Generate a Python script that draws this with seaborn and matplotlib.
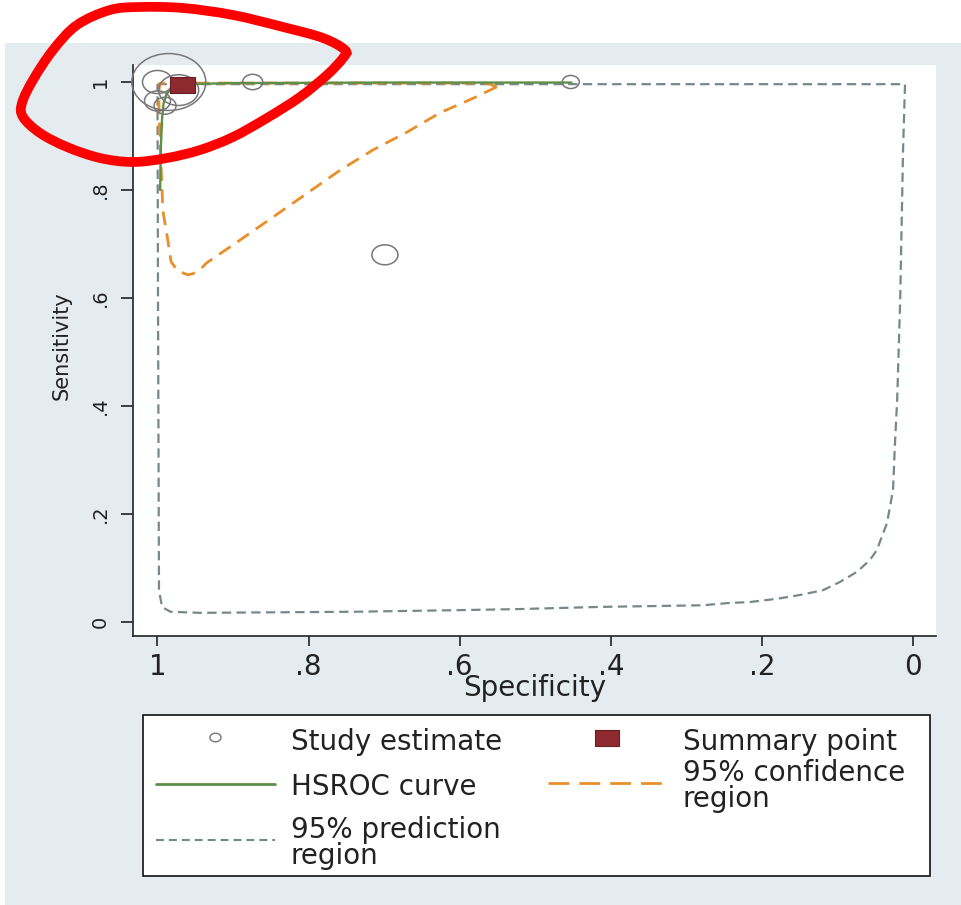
import numpy as np
import matplotlib
matplotlib.use("Agg")
import matplotlib.pyplot as plt
from matplotlib.path import Path
from matplotlib.patches import Rectangle, PathPatch
from matplotlib.lines import Line2D
from matplotlib.transforms import Affine2D
import seaborn as sns

# ---------------- data ----------------
study_spec = [0.985, 1.000, 1.000, 0.990, 0.972, 0.874, 0.453, 0.699]
study_sens = [1.000, 1.000, 0.965, 0.956, 0.985, 1.000, 1.000, 0.680]
study_weight = [74, 30, 26, 22, 40, 20, 17, 26]

summary_spec = [0.967]
summary_sens = [0.994]

hsroc_spec = [0.452, 0.70, 0.90, 0.96, 0.980, 0.988, 0.992, 0.994, 0.9955, 0.9965]
hsroc_sens = [0.999, 0.999, 0.998, 0.996, 0.990, 0.978, 0.960, 0.930, 0.880, 0.800]

conf_spec = [0.551, 0.582, 0.626, 0.670, 0.715, 0.758, 0.802, 0.847, 0.891, 0.935,
             0.944, 0.953, 0.960, 0.973, 0.982, 0.987, 0.993, 0.994, 0.9955, 0.9967,
             0.998, 0.998, 0.9967, 0.564, 0.551]
conf_sens = [0.991, 0.970, 0.943, 0.907, 0.874, 0.837, 0.794, 0.750, 0.707, 0.665,
             0.652, 0.645, 0.643, 0.650, 0.667, 0.713, 0.763, 0.806, 0.850, 0.898,
             0.948, 0.985, 0.998, 0.998, 0.991]

pred_spec = [1.000, 0.0106, 0.0132, 0.017, 0.021, 0.024, 0.0265, 0.0345, 0.048, 0.057,
             0.074, 0.097, 0.119, 0.150, 0.180, 0.216, 0.246, 0.278, 0.414, 0.520,
             0.600, 0.739, 0.944, 0.983, 0.994, 0.998, 0.9993, 1.000]
pred_sens = [0.996, 0.996, 0.874, 0.596, 0.411, 0.328, 0.244, 0.183, 0.133, 0.115,
             0.093, 0.074, 0.059, 0.050, 0.043, 0.037, 0.035, 0.031, 0.028, 0.024,
             0.022, 0.019, 0.017, 0.019, 0.028, 0.059, 0.596, 0.996]

tick_values = [1.0, 0.8, 0.6, 0.4, 0.2, 0.0]
tick_labels = ["1", ".8", ".6", ".4", ".2", "0"]

legend_labels = ["Study estimate", "Summary point", "HSROC curve",
                 "95% confidence\nregion", "95% prediction\nregion"]

# annotation loop (figure pixels)
loop_px = [(77, 25), (110, 10), (140, 7), (183, 8), (233, 15), (283, 27), (323, 38),
           (345, 50), (343, 58), (327, 75), (300, 97), (267, 118), (233, 137),
           (200, 150), (167, 158), (133, 162), (100, 158), (67, 147), (40, 133),
           (23, 117), (22, 103), (33, 80), (53, 50)]

# ---------------- styling ----------------
sns.set_style("ticks")
plt.rcParams["font.family"] = ["DejaVu Sans"]

W, H = 962, 905
fig = plt.figure(figsize=(W / 100, H / 100), dpi=100)
fig.patch.set_facecolor("white")


def fx(px):
    return px / W


def fy(py):
    return 1 - py / H


BG = "#e4ecf0"
C_CIRC = "#777777"
C_SUM = "#8c2a30"
C_HS = "#5e8f48"
C_CONF = "#e98f2a"
C_PRED = "#778888"

fig.add_artist(Rectangle((fx(5), 0), 1 - fx(5), fy(43), transform=fig.transFigure,
                         facecolor=BG, edgecolor="none", zorder=-1))

ax = fig.add_axes([fx(133), fy(636), fx(936) - fx(133), fy(65) - fy(636)])
ax.set_facecolor("white")

ellipse = Path.unit_circle().transformed(Affine2D().scale(1.3, 1.0))
rect = Path([(-0.78, -0.5), (0.78, -0.5), (0.78, 0.5), (-0.78, 0.5), (-0.78, -0.5)],
            [Path.MOVETO, Path.LINETO, Path.LINETO, Path.LINETO, Path.CLOSEPOLY])

sns.lineplot(x=pred_spec, y=pred_sens, sort=False, estimator=None, ax=ax,
             color=C_PRED, linewidth=1.6, linestyle=(0, (4.2, 2.4)), zorder=2)
sns.lineplot(x=conf_spec, y=conf_sens, sort=False, estimator=None, ax=ax,
             color=C_CONF, linewidth=2.0, linestyle=(0, (5.0, 3.0)), zorder=3)
sns.lineplot(x=hsroc_spec, y=hsroc_sens, sort=False, estimator=None, ax=ax,
             color=C_HS, linewidth=1.7, zorder=4)

sizes = (np.array(study_weight) * 0.72) ** 2
sns.scatterplot(x=study_spec, y=study_sens, ax=ax, marker=ellipse, s=sizes,
                legend=False, zorder=5)
coll = ax.collections[-1]
coll.set_facecolor("none")
coll.set_edgecolor(C_CIRC)
coll.set_linewidth(1.1)
coll.set_clip_on(False)

sns.scatterplot(x=summary_spec, y=summary_sens, ax=ax, marker=rect, s=(25 * 0.72) ** 2,
                color=C_SUM, edgecolor="#6a1d22", linewidth=0.8, legend=False, zorder=6)
ax.collections[-1].set_clip_on(False)

ax.set_xlim(1.0324, -0.0304)
ax.set_ylim(-0.0259, 1.0315)
ax.set_xticks(tick_values)
ax.set_xticklabels(tick_labels)
ax.set_yticks(tick_values)
ax.set_yticklabels(tick_labels)
for s in ["top", "right"]:
    ax.spines[s].set_visible(False)
for s in ["left", "bottom"]:
    ax.spines[s].set_color("#222222")
    ax.spines[s].set_linewidth(1.2)
ax.tick_params(axis="x", direction="out", length=7, width=1.2, pad=5,
               labelsize=20, colors="#222222")
ax.tick_params(axis="y", direction="out", length=8.5, width=1.2, pad=8,
               labelsize=14, labelrotation=90, colors="#222222")
for lab in ax.get_yticklabels():
    lab.set_va("center")

ax.set_xlabel("Specificity", fontsize=20, color="#222222")
ax.xaxis.set_label_coords(0.5, -0.066)
ax.set_ylabel("Sensitivity", fontsize=15, color="#222222")
ax.yaxis.set_label_coords(-0.076, 0.508)

# ---------------- legend box ----------------
fig.add_artist(Rectangle((fx(143), fy(876)), fx(930) - fx(143), fy(715) - fy(876),
                         transform=fig.transFigure, facecolor="white",
                         edgecolor="#111111", linewidth=1.2, zorder=2))
fig.add_artist(Line2D([fx(215)], [fy(737)], marker=ellipse, markersize=8,
                      markerfacecolor="none", markeredgecolor=C_CIRC, markeredgewidth=1.0,
                      linestyle="none", transform=fig.transFigure, zorder=3))
fig.add_artist(Line2D([fx(607)], [fy(738)], marker=rect, markersize=24 * 0.72,
                      markerfacecolor=C_SUM, markeredgecolor="#6a1d22", markeredgewidth=0.8,
                      linestyle="none", transform=fig.transFigure, zorder=3))
fig.add_artist(Line2D([fx(156), fx(275)], [fy(784), fy(784)], color=C_HS, linewidth=2.0,
                      transform=fig.transFigure, zorder=3))
fig.add_artist(Line2D([fx(548), fx(664)], [fy(783), fy(783)], color=C_CONF, linewidth=2.0,
                      linestyle=(0, (7.5, 3.6)), transform=fig.transFigure, zorder=3))
fig.add_artist(Line2D([fx(156), fx(275)], [fy(840), fy(840)], color=C_PRED, linewidth=1.5,
                      linestyle=(0, (3.8, 2.4)), transform=fig.transFigure, zorder=3))

text_pos = [(291, 742), (683, 742), (291, 787), (683, 786), (291, 843)]
for (tx, ty), lab in zip(text_pos, legend_labels):
    fig.text(fx(tx), fy(ty), lab, fontsize=20, ha="left", va="center",
             linespacing=0.92, color="#222222", zorder=4)

# ---------------- red annotation loop ----------------
P = np.array(loop_px, dtype=float)
n = len(P)
verts = [P[0]]
codes = [Path.MOVETO]
for i in range(n):
    p0, p1, p2, p3 = P[i - 1], P[i], P[(i + 1) % n], P[(i + 2) % n]
    verts += [p1 + (p2 - p0) / 6.0, p2 - (p3 - p1) / 6.0, p2]
    codes += [Path.CURVE4] * 3
verts = np.array(verts)
verts = np.column_stack([verts[:, 0] / W, 1 - verts[:, 1] / H])
fig.add_artist(PathPatch(Path(verts, codes), transform=fig.transFigure, facecolor="none",
                         edgecolor="#ff0000", linewidth=7.0, zorder=10))

fig.savefig("out.png", dpi=100)
